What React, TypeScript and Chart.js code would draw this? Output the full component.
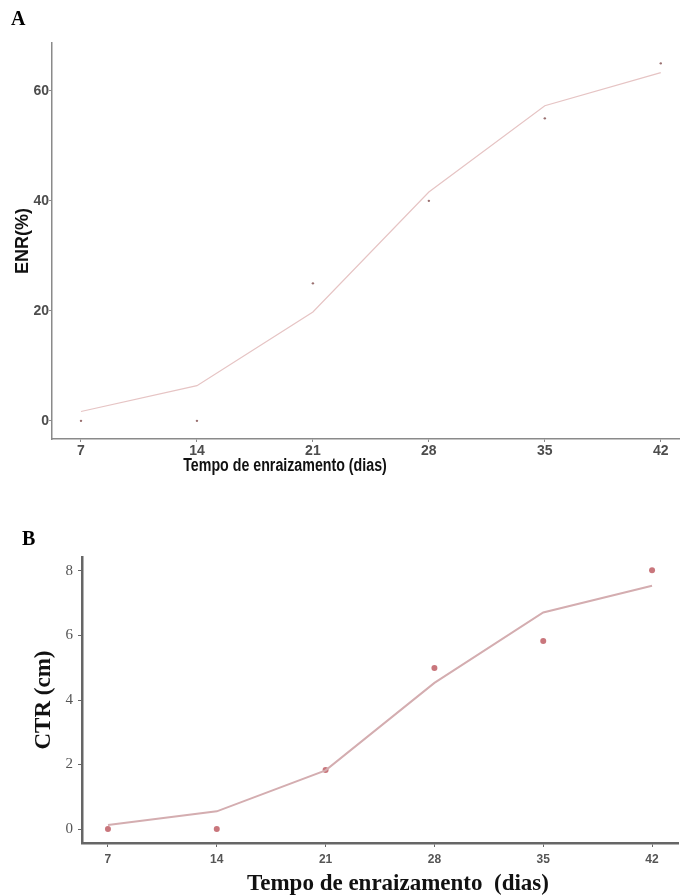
import React, { useEffect, useRef } from "react";
import { Chart, registerables } from "chart.js";

Chart.register(...registerables);

// ---- Data ----
const days = [7, 14, 21, 28, 35, 42];
const xTickValues = [7, 14, 21, 28, 35, 42];

const enrObserved = [0, 0, 25, 40, 55, 65];
const enrFitted = [1.7, 6.4, 19.8, 41.6, 57.3, 63.3];
const enrTicks = [0, 20, 40, 60];

const ctrObserved = [0, 0, 1.83, 4.99, 5.83, 8.02];
const ctrFitted = [0.13, 0.55, 1.82, 4.53, 6.71, 7.54];
const ctrTicks = [0, 2, 4, 6, 8];

const toXY = (xs: number[], ys: number[]) => xs.map((x, i) => ({ x, y: ys[i] }));

type PanelCfg = {
  observed: number[];
  fitted: number[];
  yTicks: number[];
  yTitle: string;
  xMin: number;
  xMax: number;
  yMin: number;
  yMax: number;
  padTop: number;
  padRight: number;
  yWidth: number;
  xHeight: number;
  lineColor: string;
  lineWidth: number;
  pointColor: string;
  pointRadius: number;
  axisColor: string;
  axisWidth: number;
  yTickFont: any;
  xTickFont: any;
  tickColor: string;
  yTitleFont: any;
  yTitlePad: number;
  yTickLen: number;
  yTickPad: number;
  xTickLen: number;
  xTickPad: number;
};

function makeChart(canvas: HTMLCanvasElement, c: PanelCfg) {
  return new Chart(canvas, {
    type: "scatter",
    data: {
      datasets: [
        {
          label: "fit",
          data: toXY(days, c.fitted),
          showLine: true,
          borderColor: c.lineColor,
          borderWidth: c.lineWidth,
          pointRadius: 0,
          tension: 0,
        },
        {
          label: "obs",
          data: toXY(days, c.observed),
          backgroundColor: c.pointColor,
          borderColor: c.pointColor,
          borderWidth: 0,
          pointRadius: c.pointRadius,
        },
      ],
    },
    options: {
      animation: false,
      responsive: false,
      events: [],
      layout: { padding: { left: 0, top: c.padTop, right: c.padRight, bottom: 0 } },
      plugins: { legend: { display: false }, tooltip: { enabled: false } },
      scales: {
        x: {
          type: "linear",
          min: c.xMin,
          max: c.xMax,
          afterBuildTicks: (s: any) => {
            s.ticks = xTickValues.map((v) => ({ value: v }));
          },
          afterFit: (s: any) => {
            s.height = c.xHeight;
          },
          border: { display: true, color: c.axisColor, width: c.axisWidth },
          grid: {
            display: true,
            drawOnChartArea: false,
            drawTicks: true,
            tickLength: c.xTickLen,
            tickColor: c.axisColor,
            tickWidth: 1,
          },
          ticks: {
            color: c.tickColor,
            font: c.xTickFont,
            padding: c.xTickPad,
            maxRotation: 0,
            autoSkip: false,
          },
        },
        y: {
          type: "linear",
          min: c.yMin,
          max: c.yMax,
          afterBuildTicks: (s: any) => {
            s.ticks = c.yTicks.map((v) => ({ value: v }));
          },
          afterFit: (s: any) => {
            s.width = c.yWidth;
          },
          border: { display: true, color: c.axisColor, width: c.axisWidth },
          grid: {
            display: true,
            drawOnChartArea: false,
            drawTicks: true,
            tickLength: c.yTickLen,
            tickColor: c.axisColor,
            tickWidth: 1,
          },
          ticks: {
            color: c.tickColor,
            font: c.yTickFont,
            padding: c.yTickPad,
            autoSkip: false,
          },
          title: {
            display: true,
            text: c.yTitle,
            color: "#111111",
            font: c.yTitleFont,
            padding: { top: c.yTitlePad, bottom: 0 },
          },
        },
      },
    },
  });
}

export default function App() {
  const refA = useRef<HTMLCanvasElement>(null);
  const refB = useRef<HTMLCanvasElement>(null);

  useEffect(() => {
    const a = makeChart(refA.current!, {
      observed: enrObserved,
      fitted: enrFitted,
      yTicks: enrTicks,
      yTitle: "ENR(%)",
      xMin: 5.25,
      xMax: 43.1,
      yMin: -3.3,
      yMax: 68.7,
      padTop: 43,
      padRight: 3,
      yWidth: 52,
      xHeight: 41,
      lineColor: "#e6c4c4",
      lineWidth: 1.2,
      pointColor: "#9a7070",
      pointRadius: 1.2,
      axisColor: "#8a8a8a",
      axisWidth: 1.5,
      yTickFont: { family: "'Liberation Sans', Arial, sans-serif", size: 14, weight: "bold" },
      xTickFont: { family: "'Liberation Sans', Arial, sans-serif", size: 14, weight: "bold" },
      tickColor: "#4d4d4d",
      yTitleFont: { family: "'Liberation Sans', Arial, sans-serif", size: 18, weight: "bold" },
      yTitlePad: 12,
      yTickLen: 3,
      yTickPad: 0,
      xTickLen: 3,
      xTickPad: 1,
    });
    const b = makeChart(refB.current!, {
      observed: ctrObserved,
      fitted: ctrFitted,
      yTicks: ctrTicks,
      yTitle: "CTR (cm)",
      xMin: 5.33,
      xMax: 43.67,
      yMin: -0.43,
      yMax: 8.43,
      padTop: 77,
      padRight: 5,
      yWidth: 82,
      xHeight: 52,
      lineColor: "#d4adb0",
      lineWidth: 2,
      pointColor: "#c9767c",
      pointRadius: 3,
      axisColor: "#666666",
      axisWidth: 2.5,
      yTickFont: { family: "'Liberation Serif', 'Times New Roman', serif", size: 15, weight: "normal" },
      xTickFont: { family: "'Liberation Sans', Arial, sans-serif", size: 12, weight: "bold" },
      tickColor: "#555555",
      yTitleFont: { family: "'Liberation Serif', 'Times New Roman', serif", size: 23, weight: "bold" },
      yTitlePad: 30,
      yTickLen: 4,
      yTickPad: 5,
      xTickLen: 4,
      xTickPad: 5,
    });
    return () => {
      a.destroy();
      b.destroy();
    };
  }, []);

  const serif = "'Liberation Serif', 'Times New Roman', serif";
  return (
    <div
      style={{
        position: "absolute",
        left: 0,
        top: 0,
        width: 683,
        height: 895,
        background: "#ffffff",
        overflow: "hidden",
      }}
    >
      <canvas ref={refA} width={683} height={480} style={{ position: "absolute", left: 0, top: 0, width: 683, height: 480 }} />
      <canvas ref={refB} width={683} height={415} style={{ position: "absolute", left: 0, top: 480, width: 683, height: 415 }} />
      <div style={{ position: "absolute", left: 11, top: 8, fontFamily: serif, fontWeight: "bold", fontSize: 20, lineHeight: "20px", color: "#000" }}>A</div>
      <div style={{ position: "absolute", left: 22, top: 528, fontFamily: serif, fontWeight: "bold", fontSize: 20, lineHeight: "20px", color: "#000" }}>B</div>
      <div
        style={{
          position: "absolute",
          left: 135,
          top: 455,
          width: 300,
          textAlign: "center",
          whiteSpace: "nowrap",
          fontFamily: "'Liberation Sans', Arial, sans-serif",
          fontWeight: "bold",
          fontSize: 18,
          lineHeight: "20px",
          color: "#111",
          transform: "scaleX(0.79)",
          transformOrigin: "center",
        }}
      >
        Tempo de enraizamento (dias)
      </div>
      <div
        style={{
          position: "absolute",
          left: 243,
          top: 870,
          width: 310,
          textAlign: "center",
          whiteSpace: "pre",
          fontFamily: serif,
          fontWeight: "bold",
          fontSize: 23,
          lineHeight: "26px",
          color: "#111",
        }}
      >
        {"Tempo de enraizamento  (dias)"}
      </div>
    </div>
  );
}
